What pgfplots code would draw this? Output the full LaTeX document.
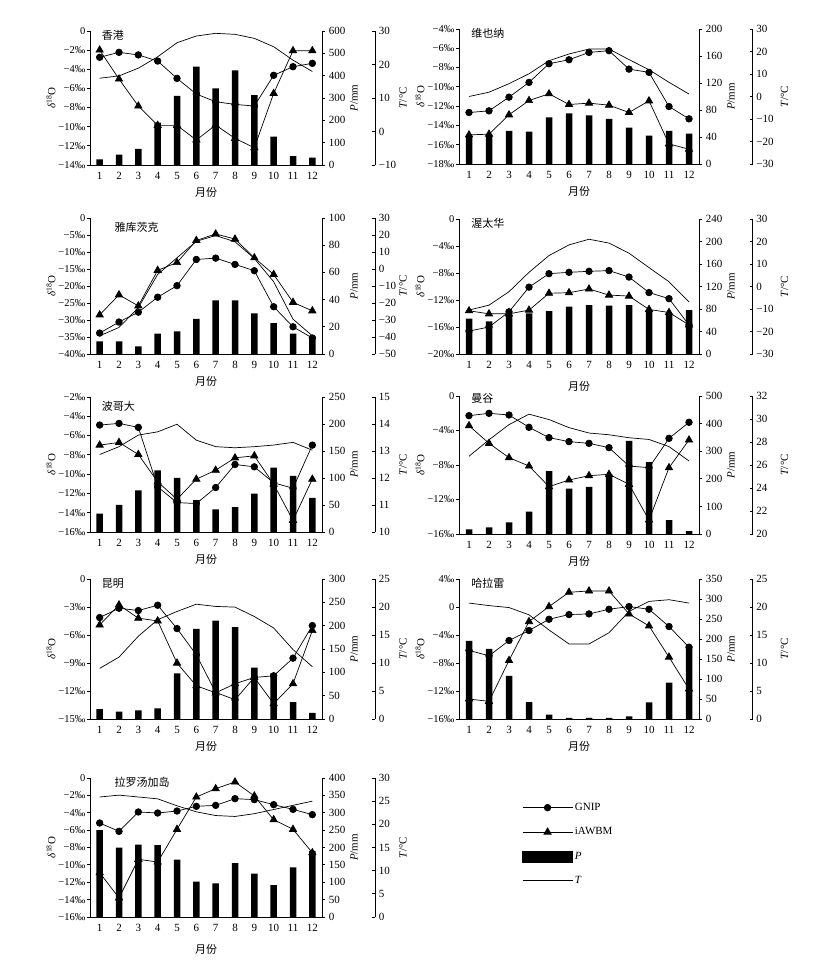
\documentclass[border=0pt]{standalone}
\usepackage{pgfplots}
\pgfplotsset{compat=1.18}
\usepackage{fontspec}
\setmainfont{Liberation Serif}
\newfontfamily\cjk{Noto Sans CJK SC}

\tikzset{ttl/.style={anchor=west, font=\cjk}}
\pgfplotsset{
  base/.style={scale only axis, anchor=south west, xmin=0.5, xmax=12.5, clip=false,
    /pgf/number format/assume math mode=true,
    tick label style={font=\fontsize{11}{12}\selectfont},
    label style={font=\fontsize{11}{12}\selectfont},
    axis line style={line width=0.8pt}, every tick/.style={black, line width=0.8pt}},
  dax/.style={base, axis x line*=bottom, axis y line*=left, xtick={1,...,12},
    x tick style={draw=none}, tick align=outside, major tick length=3pt,
    yticklabel style={inner xsep=1.5pt, font=\fontsize{10.5}{12}\selectfont},
    xlabel={\cjk 月份}, ylabel={\textit{δ}\textsuperscript{18}O},
    every axis y label/.style={at={([xshift=-39pt]axis description cs:0,0.5)}, rotate=90, anchor=center}},
  pax/.style={base, axis x line=none, axis y line*=right, ybar, bar width=6.5pt,
    tick align=outside, major tick length=3pt, ylabel={\textit{P}/mm},
    every axis y label/.style={at={([xshift=32pt]axis description cs:1,0.5)}, rotate=90, anchor=center}},
  tax/.style={base, hide axis},
  tsc/.style={scale only axis, anchor=south west, width=1pt, xmin=0, xmax=1,
    axis x line=none, axis y line*=right, tick align=inside, major tick length=3pt,
    tick label style={font=\fontsize{11}{12}\selectfont},
    label style={font=\fontsize{11}{12}\selectfont},
    axis line style={line width=0.8pt}, every tick/.style={black, line width=0.8pt},
    /pgf/number format/assume math mode=true, ylabel={\textit{T}/°C},
    every axis y label/.style={at={([xshift=#1]axis description cs:1,0.5)}, rotate=90, anchor=center}},
  tsc/.default=28pt,
  gnip/.style={black, line width=0.7pt, mark=*, mark size=3.3pt},
  iawbm/.style={black, line width=0.7pt, mark=triangle*, mark size=4.2pt},
  tline/.style={black, line width=0.7pt, no markers},
  pbar/.style={fill=black, draw=none},
}

\begin{document}
\fontsize{11}{13}\selectfont
\begin{tikzpicture}
\path[use as bounding box] (0pt,0pt) rectangle (835pt,969pt);

% ---------- 香港 ----------
\begin{axis}[pax, at={(90pt,804pt)}, width=232pt, height=134pt, ymin=0, ymax=600, ytick={0,100,...,600}]
\addplot[pbar] coordinates {(1,25) (2,46) (3,72) (4,190) (5,309) (6,440) (7,343) (8,424) (9,313) (10,127) (11,40) (12,33)};
\end{axis}
\begin{axis}[tax, at={(90pt,804pt)}, width=232pt, height=134pt, ymin=-10, ymax=30]
\addplot[tline] coordinates {(1,15.9) (2,16.6) (3,18.9) (4,22.3) (5,26.5) (6,28.5) (7,29.3) (8,29.0) (9,27.8) (10,25.3) (11,21.3) (12,17.9)};
\end{axis}
\begin{axis}[dax, at={(90pt,804pt)}, width=232pt, height=134pt, ymin=-14, ymax=0, ytick={-14,-12,...,0},
  yticklabels={−14‰,−12‰,−10‰,−8‰,−6‰,−4‰,−2‰,0}]
\addplot[gnip] coordinates {(1,-2.75) (2,-2.23) (3,-2.5) (4,-3.14) (5,-4.95) (6,-6.59) (7,-7.39) (8,-7.67) (9,-7.84) (10,-4.63) (11,-3.73) (12,-3.38)};
\addplot[iawbm] coordinates {(1,-1.99) (2,-5.02) (3,-7.84) (4,-9.86) (5,-9.86) (6,-11.39) (7,-9.83) (8,-11.22) (9,-12.2) (10,-6.52) (11,-2.06) (12,-2.06)};
\node[ttl] at (rel axis cs:0.035,0.97) {香港};
\end{axis}
\begin{axis}[tsc, at={(374pt,804pt)}, height=134pt, ymin=-10, ymax=30, ytick={-10,0,...,30}, yticklabels={−10,0,10,20,30}]
\end{axis}

% ---------- 维也纳 ----------
\begin{axis}[pax, at={(459pt,805pt)}, width=240pt, height=135pt, ymin=0, ymax=200, ytick={0,40,...,200}]
\addplot[pbar] coordinates {(1,42) (2,43) (3,49) (4,48) (5,69) (6,75) (7,72) (8,67) (9,54) (10,42) (11,49) (12,45)};
\end{axis}
\begin{axis}[tax, at={(459pt,805pt)}, width=240pt, height=135pt, ymin=-30, ymax=30]
\addplot[tline] coordinates {(1,0.0) (2,1.9) (3,5.7) (4,10.1) (5,15.9) (6,18.9) (7,21.1) (8,21.1) (9,16.4) (10,11.9) (11,6.3) (12,1.1)};
\end{axis}
\begin{axis}[dax, at={(459pt,805pt)}, width=240pt, height=135pt, ymin=-18, ymax=-4, ytick={-18,-16,...,-4},
  yticklabels={−18‰,−16‰,−14‰,−12‰,−10‰,−8‰,−6‰,−4‰}]
\addplot[gnip] coordinates {(1,-12.66) (2,-12.49) (3,-11.07) (4,-9.54) (5,-7.6) (6,-7.19) (7,-6.43) (8,-6.25) (9,-8.16) (10,-8.5) (11,-12.04) (12,-13.32)};
\addplot[iawbm] coordinates {(1,-14.98) (2,-14.91) (3,-12.9) (4,-11.42) (5,-10.72) (6,-11.83) (7,-11.69) (8,-11.9) (9,-12.66) (10,-11.45) (11,-15.92) (12,-16.47)};
\node[ttl] at (rel axis cs:0.035,0.97) {维也纳};
\end{axis}
\begin{axis}[tsc=32pt, at={(751.5pt,805pt)}, height=135pt, ymin=-30, ymax=30, ytick={-30,-20,...,30}, yticklabels={−30,−20,−10,0,10,20,30}]
\end{axis}

% ---------- 雅库茨克 ----------
\begin{axis}[pax, at={(90pt,615pt)}, width=232pt, height=136pt, ymin=0, ymax=100, ytick={0,20,...,100}]
\addplot[pbar] coordinates {(1,9.3) (2,9.3) (3,5.6) (4,15) (5,16.7) (6,25.9) (7,39.5) (8,39.5) (9,29.9) (10,22.7) (11,15) (12,13)};
\end{axis}
\begin{axis}[tax, at={(90pt,615pt)}, width=232pt, height=136pt, ymin=-50, ymax=30]
\addplot[tline] coordinates {(1,-39.3) (2,-34.4) (3,-22.7) (4,-3.2) (5,6.6) (6,16.3) (7,19.7) (8,16.0) (9,6.2) (10,-7.5) (11,-29.5) (12,-39.3)};
\end{axis}
\begin{axis}[dax, at={(90pt,615pt)}, width=232pt, height=136pt, ymin=-40, ymax=0, ytick={-40,-35,...,0},
  yticklabels={−40‰,−35‰,−30‰,−25‰,−20‰,−15‰,−10‰,−5‰,0}]
\addplot[gnip] coordinates {(1,-33.85) (2,-30.6) (3,-27.7) (4,-23.3) (5,-19.9) (6,-12.2) (7,-11.8) (8,-13.66) (9,-15.5) (10,-26.1) (11,-32.0) (12,-35.3)};
\addplot[iawbm] coordinates {(1,-28.5) (2,-22.6) (3,-25.85) (4,-15.4) (5,-13.1) (6,-6.6) (7,-4.7) (8,-6.2) (9,-11.7) (10,-16.6) (11,-24.8) (12,-27.3)};
\node[ttl] at (rel axis cs:0.09,0.93) {雅库茨克};
\end{axis}
\begin{axis}[tsc, at={(374pt,615pt)}, height=136pt, ymin=-50, ymax=30, ytick={-50,-40,...,30}, yticklabels={−50,−40,−30,−20,−10,0,10,20,30}]
\end{axis}

% ---------- 渥太华 ----------
\begin{axis}[pax, at={(459pt,615pt)}, width=240pt, height=135pt, ymin=0, ymax=240, ytick={0,40,...,240}]
\addplot[pbar] coordinates {(1,63) (2,58) (3,68) (4,72) (5,76) (6,84) (7,87) (8,86) (9,87) (10,78) (11,72) (12,78)};
\end{axis}
\begin{axis}[tax, at={(459pt,615pt)}, width=240pt, height=135pt, ymin=-30, ymax=30]
\addplot[tline] coordinates {(1,-10.5) (2,-8.3) (3,-2.3) (4,6.3) (5,13.75) (6,18.5) (7,21.0) (8,19.3) (9,14.8) (10,8.4) (11,2.1) (12,-6.8)};
\end{axis}
\begin{axis}[dax, at={(459pt,615pt)}, width=240pt, height=135pt, ymin=-20, ymax=0, ytick={-20,-16,...,0},
  yticklabels={−20‰,−16‰,−12‰,−8‰,−4‰,0}, xlabel style={yshift=-5pt}]
\addplot[gnip] coordinates {(1,-16.6) (2,-16.0) (3,-13.75) (4,-10.1) (5,-8.1) (6,-7.9) (7,-7.75) (8,-7.65) (9,-8.6) (10,-10.9) (11,-11.8) (12,-15.7)};
\addplot[iawbm] coordinates {(1,-13.6) (2,-14.05) (3,-14.05) (4,-13.5) (5,-11.0) (6,-10.92) (7,-10.37) (8,-11.27) (9,-11.42) (10,-13.4) (11,-13.85) (12,-15.7)};
\node[ttl] at (rel axis cs:0.035,0.97) {渥太华};
\end{axis}
\begin{axis}[tsc=32pt, at={(751.5pt,615pt)}, height=135pt, ymin=-30, ymax=30, ytick={-30,-20,...,30}, yticklabels={−30,−20,−10,0,10,20,30}]
\end{axis}

% ---------- 波哥大 ----------
\begin{axis}[pax, at={(90pt,437pt)}, width=232pt, height=135pt, ymin=0, ymax=250, ytick={0,50,...,250}]
\addplot[pbar] coordinates {(1,34) (2,50) (3,77) (4,114) (5,100) (6,59) (7,42) (8,46) (9,71) (10,119) (11,104) (12,63)};
\end{axis}
\begin{axis}[tax, at={(90pt,437pt)}, width=232pt, height=135pt, ymin=10, ymax=15]
\addplot[tline] coordinates {(1,12.87) (2,13.16) (3,13.59) (4,13.71) (5,13.99) (6,13.4) (7,13.16) (8,13.12) (9,13.16) (10,13.22) (11,13.32) (12,13.03)};
\end{axis}
\begin{axis}[dax, at={(90pt,437pt)}, width=232pt, height=135pt, ymin=-16, ymax=-2, ytick={-16,-14,...,-2},
  yticklabels={−16‰,−14‰,−12‰,−10‰,−8‰,−6‰,−4‰,−2‰}]
\addplot[gnip] coordinates {(1,-4.91) (2,-4.74) (3,-5.15) (4,-11.32) (5,-12.95) (6,-13.05) (7,-11.39) (8,-9.0) (9,-9.24) (10,-10.9) (11,-11.46) (12,-6.99)};
\addplot[iawbm] coordinates {(1,-6.99) (2,-6.71) (3,-7.96) (4,-10.8) (5,-12.6) (6,-10.52) (7,-9.59) (8,-8.31) (9,-8.1) (10,-11.04) (11,-14.79) (12,-10.52)};
\node[ttl] at (rel axis cs:0.035,0.93) {波哥大};
\end{axis}
\begin{axis}[tsc, at={(374pt,437pt)}, height=135pt, ymin=10, ymax=15, ytick={10,11,...,15}]
\end{axis}

% ---------- 曼谷 ----------
\begin{axis}[pax, at={(459pt,435pt)}, width=240pt, height=138pt, ymin=0, ymax=500, ytick={0,100,...,500}]
\addplot[pbar] coordinates {(1,17) (2,24) (3,42) (4,81) (5,228) (6,164) (7,171) (8,216) (9,337) (10,260) (11,50) (12,10)};
\end{axis}
\begin{axis}[tax, at={(459pt,435pt)}, width=240pt, height=138pt, ymin=20, ymax=32]
\addplot[tline] coordinates {(1,26.76) (2,28.19) (3,29.51) (4,30.42) (5,29.95) (6,29.25) (7,28.78) (8,28.63) (9,28.37) (10,28.22) (11,27.6) (12,26.35)};
\end{axis}
\begin{axis}[dax, at={(459pt,435pt)}, width=240pt, height=138pt, ymin=-16, ymax=0, ytick={-16,-12,...,0},
  yticklabels={−16‰,−12‰,−8‰,−4‰,0}]
\addplot[gnip] coordinates {(1,-2.28) (2,-2.01) (3,-2.2) (4,-3.63) (5,-4.83) (6,-5.29) (7,-5.49) (8,-5.99) (9,-8.12) (10,-8.31) (11,-4.91) (12,-3.05)};
\addplot[iawbm] coordinates {(1,-3.44) (2,-5.49) (3,-7.15) (4,-8.12) (5,-10.51) (6,-9.74) (7,-9.24) (8,-9.08) (9,-10.24) (10,-14.38) (11,-8.31) (12,-5.1)};
\node[ttl] at (rel axis cs:0.035,0.98) {曼谷};
\end{axis}
\begin{axis}[tsc=32pt, at={(751.5pt,435pt)}, height=138pt, ymin=20, ymax=32, ytick={20,22,...,32}]
\end{axis}

% ---------- 昆明 ----------
\begin{axis}[pax, at={(90pt,250pt)}, width=232pt, height=140pt, ymin=0, ymax=300, ytick={0,50,...,300}]
\addplot[pbar] coordinates {(1,21) (2,16) (3,18.5) (4,23) (5,98) (6,193) (7,211) (8,197) (9,110) (10,98) (11,36) (12,13)};
\end{axis}
\begin{axis}[tax, at={(90pt,250pt)}, width=232pt, height=140pt, ymin=0, ymax=25]
\addplot[tline] coordinates {(1,9.04) (2,11.05) (3,14.78) (4,17.73) (5,19.2) (6,20.5) (7,20.1) (8,19.98) (9,18.3) (10,16.25) (11,12.4) (12,9.34)};
\end{axis}
\begin{axis}[dax, at={(90pt,250pt)}, width=232pt, height=140pt, ymin=-15, ymax=0, ytick={-15,-12,...,0},
  yticklabels={−15‰,−12‰,−9‰,−6‰,−3‰,0}]
\addplot[gnip] coordinates {(1,-4.13) (2,-3.13) (3,-3.38) (4,-2.81) (5,-5.31) (6,-8.12) (7,-12.15) (8,-12.93) (9,-10.55) (10,-10.37) (11,-8.48) (12,-4.99)};
\addplot[iawbm] coordinates {(1,-4.92) (2,-2.78) (3,-4.2) (4,-4.49) (5,-9.01) (6,-11.44) (7,-12.2) (8,-11.22) (9,-10.55) (10,-13.36) (11,-11.22) (12,-5.52)};
\node[ttl] at (rel axis cs:0.035,0.97) {昆明};
\end{axis}
\begin{axis}[tsc, at={(374pt,250pt)}, height=140pt, ymin=0, ymax=25, ytick={0,5,...,25}]
\end{axis}

% ---------- 哈拉雷 ----------
\begin{axis}[pax, at={(459pt,250pt)}, width=240pt, height=140pt, ymin=0, ymax=350, ytick={0,50,...,350}]
\addplot[pbar] coordinates {(1,195) (2,175) (3,108) (4,42) (5,11) (6,3) (7,2.5) (8,3) (9,6.6) (10,41.5) (11,91) (12,181)};
\end{axis}
\begin{axis}[tax, at={(459pt,250pt)}, width=240pt, height=140pt, ymin=0, ymax=25]
\addplot[tline] coordinates {(1,20.7) (2,20.25) (3,19.9) (4,18.6) (5,15.9) (6,13.4) (7,13.4) (8,15.4) (9,19.2) (10,21.0) (11,21.3) (12,20.7)};
\end{axis}
\begin{axis}[dax, at={(459pt,250pt)}, width=240pt, height=140pt, ymin=-16, ymax=4, ytick={-16,-12,...,4},
  yticklabels={−16‰,−12‰,−8‰,−4‰,0,4‰}]
\addplot[gnip] coordinates {(1,-6.21) (2,-6.97) (3,-4.79) (4,-3.36) (5,-1.75) (6,-1.08) (7,-0.99) (8,-0.32) (9,0.06) (10,-0.32) (11,-2.79) (12,-5.74)};
\addplot[iawbm] coordinates {(1,-13.15) (2,-13.48) (3,-7.64) (4,-2.08) (5,0.06) (6,2.1) (7,2.29) (8,2.29) (9,-0.99) (10,-2.7) (11,-7.16) (12,-11.72)};
\node[ttl] at (rel axis cs:0.035,0.97) {哈拉雷};
\end{axis}
\begin{axis}[tsc=32pt, at={(751.5pt,250pt)}, height=140pt, ymin=0, ymax=25, ytick={0,5,...,25}]
\end{axis}

% ---------- 拉罗汤加岛 ----------
\begin{axis}[pax, at={(90pt,52pt)}, width=232pt, height=139pt, ymin=0, ymax=400, ytick={0,50,...,400}]
\addplot[pbar] coordinates {(1,250) (2,200) (3,208) (4,207) (5,165) (6,102) (7,97) (8,155) (9,125) (10,92) (11,143) (12,190)};
\end{axis}
\begin{axis}[tax, at={(90pt,52pt)}, width=232pt, height=139pt, ymin=0, ymax=30]
\addplot[tline] coordinates {(1,25.9) (2,26.3) (3,25.9) (4,25.5) (5,24.0) (6,22.7) (7,21.9) (8,21.7) (9,22.3) (10,23.2) (11,24.1) (12,25.0)};
\end{axis}
\begin{axis}[dax, at={(90pt,52pt)}, width=232pt, height=139pt, ymin=-16, ymax=0, ytick={-16,-14,...,0},
  yticklabels={−16‰,−14‰,−12‰,−10‰,−8‰,−6‰,−4‰,−2‰,0}, xlabel style={yshift=-5pt}]
\addplot[gnip] coordinates {(1,-5.18) (2,-6.14) (3,-3.91) (4,-4.03) (5,-3.8) (6,-3.26) (7,-3.15) (8,-2.38) (9,-2.49) (10,-3.07) (11,-3.61) (12,-4.22)};
\addplot[iawbm] coordinates {(1,-10.9) (2,-13.81) (3,-9.36) (4,-9.67) (5,-5.91) (6,-2.19) (7,-1.23) (8,-0.46) (9,-2.07) (10,-4.8) (11,-5.91) (12,-8.6)};
\node[ttl] at (rel axis cs:0.09,0.97) {拉罗汤加岛};
\end{axis}
\begin{axis}[tsc, at={(374pt,52pt)}, height=139pt, ymin=0, ymax=30, ytick={0,5,...,30}]
\end{axis}

% ---------- legend ----------
\begin{axis}[scale only axis, anchor=north west, at={(522pt,168pt)}, width=100pt, height=90pt,
  xmin=0, xmax=1, ymin=0, ymax=1, hide axis, legend cell align=left,
  legend style={at={(0,1)}, anchor=north west, draw=none, fill=none, inner sep=0pt,
    row sep=11.5pt, font=\fontsize{11}{12}\selectfont,
    /tikz/every even column/.append style={column sep=10pt}},
  legend image code/.code={\draw[mark repeat=2, mark phase=2, #1] plot coordinates {(0pt,0pt) (25pt,0pt) (50pt,0pt)};}]
\addlegendimage{gnip}
\addlegendentry{GNIP}
\addlegendimage{iawbm}
\addlegendentry{iAWBM}
\addlegendimage{legend image code/.code={\fill[black] (0pt,-5.5pt) rectangle (50pt,5.5pt);}}
\addlegendentry{\textit{P}}
\addlegendimage{tline}
\addlegendentry{\textit{T}}
\end{axis}
\end{tikzpicture}
\end{document}
